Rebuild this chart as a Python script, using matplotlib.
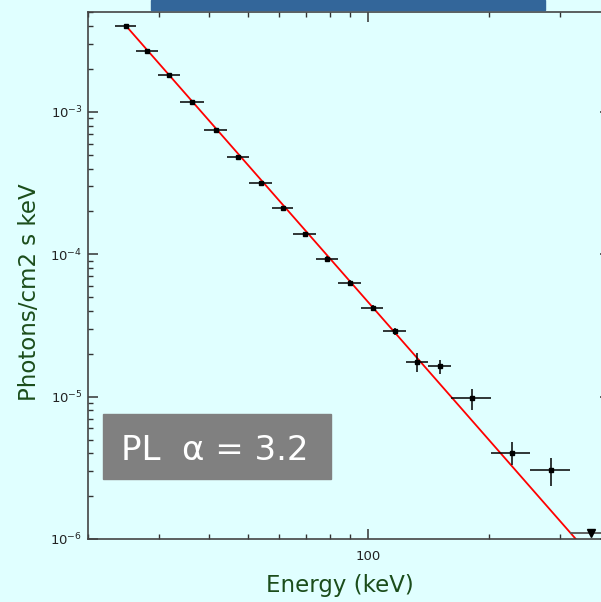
import matplotlib.pyplot as plt
from matplotlib.patches import Rectangle
from matplotlib.ticker import LogLocator, NullFormatter, FixedLocator, FixedFormatter
import numpy as np

# data
energy = [24.85, 28.1, 31.9, 36.4, 41.6, 47.3, 53.9, 61.2, 69.4, 79.0,
          89.9, 102.5, 116.3, 132.4, 150.4, 181.1, 227.3, 285.2]
energy_edges = [23.4, 26.4, 29.9, 33.9, 38.9, 44.5, 50.4, 57.5, 65.0, 74.1,
                84.1, 95.9, 108.8, 124.0, 141.0, 160.9, 202.0, 253.0, 318.0]
flux = [4.04e-3, 2.70e-3, 1.81e-3, 1.17e-3, 7.47e-4, 4.80e-4, 3.17e-4, 2.11e-4,
        1.39e-4, 9.32e-5, 6.26e-5, 4.18e-5, 2.88e-5, 1.76e-5, 1.63e-5, 9.74e-6,
        4.04e-6, 3.04e-6]
flux_lo = [3.98e-3, 2.66e-3, 1.78e-3, 1.15e-3, 7.33e-4, 4.70e-4, 3.07e-4, 2.04e-4,
           1.34e-4, 8.97e-5, 5.97e-5, 3.97e-5, 2.73e-5, 1.50e-5, 1.45e-5, 8.02e-6,
           3.31e-6, 2.36e-6]
flux_hi = [4.10e-3, 2.74e-3, 1.84e-3, 1.19e-3, 7.61e-4, 4.90e-4, 3.27e-4, 2.18e-4,
           1.44e-4, 9.68e-5, 6.56e-5, 4.40e-5, 3.04e-5, 2.02e-5, 1.80e-5, 1.14e-5,
           4.78e-6, 3.72e-6]

# upper limit in last bin
ul_energy = 358.7
ul_edges = [318.0, 400.0]
ul_flux = 1.1e-6

# power-law fit (alpha = 3.2), end points of the red line
model_energy = [24.85, 328.7]
model_flux = [4.04e-3, 1.0e-6]

bg = '#e0ffff'
green = '#1b4d1b'

W, H = 601, 602
fig = plt.figure(figsize=(W / 100, H / 100), dpi=100, facecolor=bg)
plt.rcParams['mathtext.default'] = 'regular'

ax = fig.add_axes([88 / W, 63 / H, (610 - 88) / W, (539 - 12) / H])
ax.set_facecolor(bg)
ax.set_xscale('log')
ax.set_yscale('log')
ax.set_xlim(20, 400)
ax.set_ylim(1e-6, 5.04e-3)

e = np.array(energy)
lo = np.array(energy_edges[:-1])
hi = np.array(energy_edges[1:])
f = np.array(flux)
xerr = [e - lo, hi - e]
yerr = [f - np.array(flux_lo), np.array(flux_hi) - f]

ax.plot(model_energy, model_flux, color='red', lw=1.3, zorder=2)
ax.errorbar(e, f, xerr=xerr, yerr=yerr, fmt='s', color='black', ms=2.5,
            elinewidth=1.1, capsize=0, zorder=3)
ax.errorbar([ul_energy], [ul_flux],
            xerr=[[ul_energy - ul_edges[0]], [ul_edges[1] - ul_energy]],
            fmt='v', color='black', ms=6, elinewidth=1.3, ecolor='#555555',
            capsize=0, zorder=3, clip_on=False)

for s in ax.spines.values():
    s.set_color('#444444')
    s.set_linewidth(1.2)

ax.xaxis.set_major_locator(FixedLocator([100]))
ax.xaxis.set_major_formatter(FixedFormatter(['100']))
ax.xaxis.set_minor_locator(LogLocator(base=10, subs=np.arange(2, 10)))
ax.xaxis.set_minor_formatter(NullFormatter())
ax.yaxis.set_major_locator(LogLocator(base=10, numticks=10))
ax.yaxis.set_minor_locator(LogLocator(base=10, subs=np.arange(2, 10), numticks=20))
ax.yaxis.set_minor_formatter(NullFormatter())

ax.tick_params(which='both', direction='in', top=True, right=True,
               color='#333333', labelcolor='#222222', labelsize=9.5)
ax.tick_params(which='major', length=7.2, width=1.1)
ax.tick_params(which='minor', length=3.6, width=1.0)
ax.tick_params(axis='x', pad=8)
ax.tick_params(axis='y', pad=4)

# slide title bar remnant at the top
fig.patches.append(Rectangle((151 / W, 1 - 10 / H), (545 - 151) / W, 10 / H,
                             transform=fig.transFigure, color='#33669a', zorder=5))

# axis titles
fig.text(30 / W, 1 - 292 / H, 'Photons/cm2 s keV', rotation=90, ha='center',
         va='center', color=green, fontsize=16.5)
fig.text(340 / W, 1 - 592 / H, 'Energy (keV)', ha='center', va='baseline',
         color=green, fontsize=16.5)

# label box
fig.patches.append(Rectangle((103 / W, 1 - 479 / H), (331 - 103) / W, (479 - 414) / H,
                             transform=fig.transFigure, color='#808080', zorder=5))
fig.text(121 / W, 1 - 460 / H, 'PL  α = 3.2', ha='left', va='baseline',
         color='white', fontsize=24.5, zorder=6)

fig.savefig('out.png', dpi=100, facecolor=bg)
